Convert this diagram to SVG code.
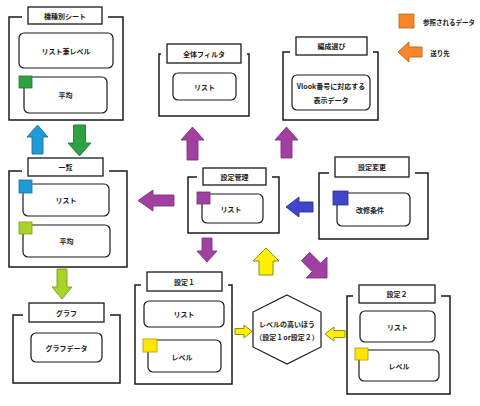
<svg xmlns="http://www.w3.org/2000/svg" width="480" height="406" viewBox="0 0 480 406">
<style>
.frame{fill:#fff;stroke:#1a1a1a;stroke-width:1.5}
.gap{fill:#fff;stroke:none}
.label{fill:#fff;stroke:#1a1a1a;stroke-width:1.3}
.inner{fill:#fff;stroke:#1a1a1a;stroke-width:1.2}
text{font-family:"Noto Sans CJK JP","Noto Sans",sans-serif;font-size:7px;font-weight:bold;fill:#1a1a1a;text-anchor:middle;dominant-baseline:central}
.sq{stroke-width:0.8}
.arr{stroke-width:0.9;stroke-linejoin:miter}
</style>
<rect width="480" height="406" fill="#fff"/>

<g id="node-kishubetsu">
<rect class="frame" x="9" y="17" width="114" height="103"/>
<rect class="gap" x="22" y="7" width="86" height="17"/>
<rect class="label" x="28" y="7" width="74" height="17"/>
<text x="65" y="15.5">機種別シート</text>
<rect class="inner" x="19" y="33" width="94" height="35" rx="5"/>
<text x="66" y="50.5">リスト兼レベル</text>
<rect class="inner" x="24" y="77" width="83" height="36" rx="5"/>
<rect class="sq" x="19" y="76" width="13" height="12" fill="#2FA043" stroke="#1E7A30"/>
<text x="65.5" y="95">平均</text>
</g>

<g id="node-zentai">
<rect class="frame" x="159" y="54" width="90" height="62"/>
<rect class="gap" x="161" y="44" width="86" height="19"/>
<rect class="label" x="167" y="44" width="74" height="19"/>
<text x="204" y="53.5">全体フィルタ</text>
<rect class="inner" x="173" y="73" width="63" height="27" rx="5"/>
<text x="204.5" y="86.5">リスト</text>
</g>

<g id="node-hensei">
<rect class="frame" x="283" y="52" width="95" height="68"/>
<rect class="gap" x="290" y="37" width="83" height="18"/>
<rect class="label" x="296" y="37" width="71" height="18"/>
<text x="331.5" y="46">編成選び</text>
<rect class="inner" x="292" y="75" width="78" height="35" rx="5"/>
<text x="331" y="85.5">Vlook番号に対応する</text>
<text x="331" y="99.5">表示データ</text>
</g>

<g id="node-ichiran">
<rect class="frame" x="9" y="171" width="118" height="96"/>
<rect class="gap" x="22" y="158" width="87" height="18"/>
<rect class="label" x="28" y="158" width="75" height="18"/>
<text x="65.5" y="167">一覧</text>
<rect class="inner" x="23" y="184" width="86" height="32" rx="5"/>
<rect class="sq" x="19" y="180" width="13" height="13" fill="#1E9AD9" stroke="#1670A0"/>
<text x="66" y="200">リスト</text>
<rect class="inner" x="23" y="225" width="87" height="32" rx="5"/>
<rect class="sq" x="19" y="222" width="13" height="12" fill="#A8D42A" stroke="#7A9C1E"/>
<text x="66.5" y="241">平均</text>
</g>

<g id="node-settei-kanri">
<rect class="frame" x="188" y="177" width="91" height="56"/>
<rect class="gap" x="197" y="168" width="75" height="17"/>
<rect class="label" x="203" y="168" width="63" height="17"/>
<text x="234.5" y="176.5">設定管理</text>
<rect class="inner" x="202" y="194" width="61" height="29" rx="5"/>
<rect class="sq" x="197" y="192" width="13" height="12" fill="#A040A0" stroke="#733073"/>
<text x="231" y="208.5">リスト</text>
</g>

<g id="node-settei-henkou">
<rect class="frame" x="319" y="173" width="109" height="66"/>
<rect class="gap" x="329" y="157" width="86" height="20"/>
<rect class="label" x="335" y="157" width="74" height="20"/>
<text x="372" y="167">設定変更</text>
<rect class="inner" x="337" y="193" width="73" height="33" rx="5"/>
<rect class="sq" x="333" y="191" width="15" height="14" fill="#3F45CC" stroke="#2A2F99"/>
<text x="370" y="210">改修条件</text>
</g>

<g id="node-graph">
<rect class="frame" x="13" y="315" width="107" height="68"/>
<rect class="gap" x="23" y="303" width="87" height="19"/>
<rect class="label" x="29" y="303" width="75" height="19"/>
<text x="66.5" y="312.5">グラフ</text>
<rect class="inner" x="31" y="333" width="71" height="29" rx="5"/>
<text x="66.5" y="347.5">グラフデータ</text>
</g>

<g id="node-settei1">
<rect class="frame" x="135" y="285" width="97" height="99"/>
<rect class="gap" x="141" y="272" width="87" height="19"/>
<rect class="label" x="147" y="272" width="75" height="19"/>
<text x="184.5" y="281.5">設定１</text>
<rect class="inner" x="144" y="301" width="80" height="26" rx="5"/>
<text x="184" y="314">リスト</text>
<rect class="inner" x="148" y="340" width="73" height="32" rx="5"/>
<rect class="sq" x="143" y="339" width="14" height="13" fill="#FFE600" stroke="#A89A00"/>
<text x="182" y="356.5">レベル</text>
</g>

<g id="node-higher">
<polygon class="inner" points="287,295 321,312 321,347 287,364 253,347 253,312"/>
<text x="287" y="324">レベルの高いほう</text>
<text x="287" y="337">（設定１or設定２）</text>
</g>

<g id="node-settei2">
<rect class="frame" x="347" y="296" width="103" height="98"/>
<rect class="gap" x="353" y="285" width="88" height="18"/>
<rect class="label" x="359" y="285" width="76" height="18"/>
<text x="397" y="294">設定２</text>
<rect class="inner" x="360" y="311" width="75" height="31" rx="5"/>
<text x="397.5" y="326.5">リスト</text>
<rect class="inner" x="359" y="350" width="80" height="31" rx="5"/>
<rect class="sq" x="355" y="348" width="13" height="12" fill="#FFE600" stroke="#A89A00"/>
<text x="399" y="365.5">レベル</text>
</g>

<g id="legend">
<rect class="sq" x="399" y="14" width="15" height="14" fill="#F7862B" stroke="#C0621A"/>
<text x="449" y="22" style="font-size:6.5px">参照されるデータ</text>
<polygon class="arr" points="398,52 409,42 409,47 422,47 422,57 409,57 409,62" fill="#F7862B" stroke="#C0621A"/>
<text x="440" y="53" style="font-size:6.5px">送り先</text>
</g>

<g id="connectors">
<polygon class="arr" points="37.5,125 48,137 43,137 43,154 32,154 32,137 27,137" fill="#1E9AD9" stroke="#1670A0"/>
<polygon class="arr" points="73.5,125 85.5,125 85.5,143 91,143 79.5,156 68,143 73.5,143" fill="#2FA043" stroke="#1E7A30"/>
<polygon class="arr" points="192.5,127 204,140 198,140 198,160 187,160 187,140 181,140" fill="#A040A0" stroke="#803380"/>
<polygon class="arr" points="286.5,127 298,140 292,140 292,158 281,158 281,140 275,140" fill="#A040A0" stroke="#803380"/>
<polygon class="arr" points="138,200.5 153,190 153,195 174,195 174,206 153,206 153,211" fill="#A040A0" stroke="#803380"/>
<polygon class="arr" points="286,207 299,197 299,202 313,202 313,212 299,212 299,217" fill="#3F45CC" stroke="#2A2F99"/>
<polygon class="arr" points="202,238 212,238 212,251 217,251 207,262 197,251 202,251" fill="#A040A0" stroke="#803380"/>
<polygon class="arr" points="266,248 279,261 273,261 273,275 259,275 259,261 253,261" fill="#FFF000" stroke="#8A8000"/>
<polygon class="arr" points="327,278 306,278 312.3,271.7 301.3,260.7 309.7,252.3 320.7,263.3 327,257" fill="#A040A0" stroke="#803380"/>
<polygon class="arr" points="57,269 67,269 67,287 72,287 62,299 52,287 57,287" fill="#A8D42A" stroke="#7A9C1E"/>
<polygon class="arr" points="252,331.5 244,325 244,328.5 235,328.5 235,334.5 244,334.5 244,338" fill="#FFF000" stroke="#8A8000"/>
<polygon class="arr" points="325,334 334,327 334,330.5 345,330.5 345,337.5 334,337.5 334,341" fill="#FFF000" stroke="#8A8000"/>
</g>
</svg>
